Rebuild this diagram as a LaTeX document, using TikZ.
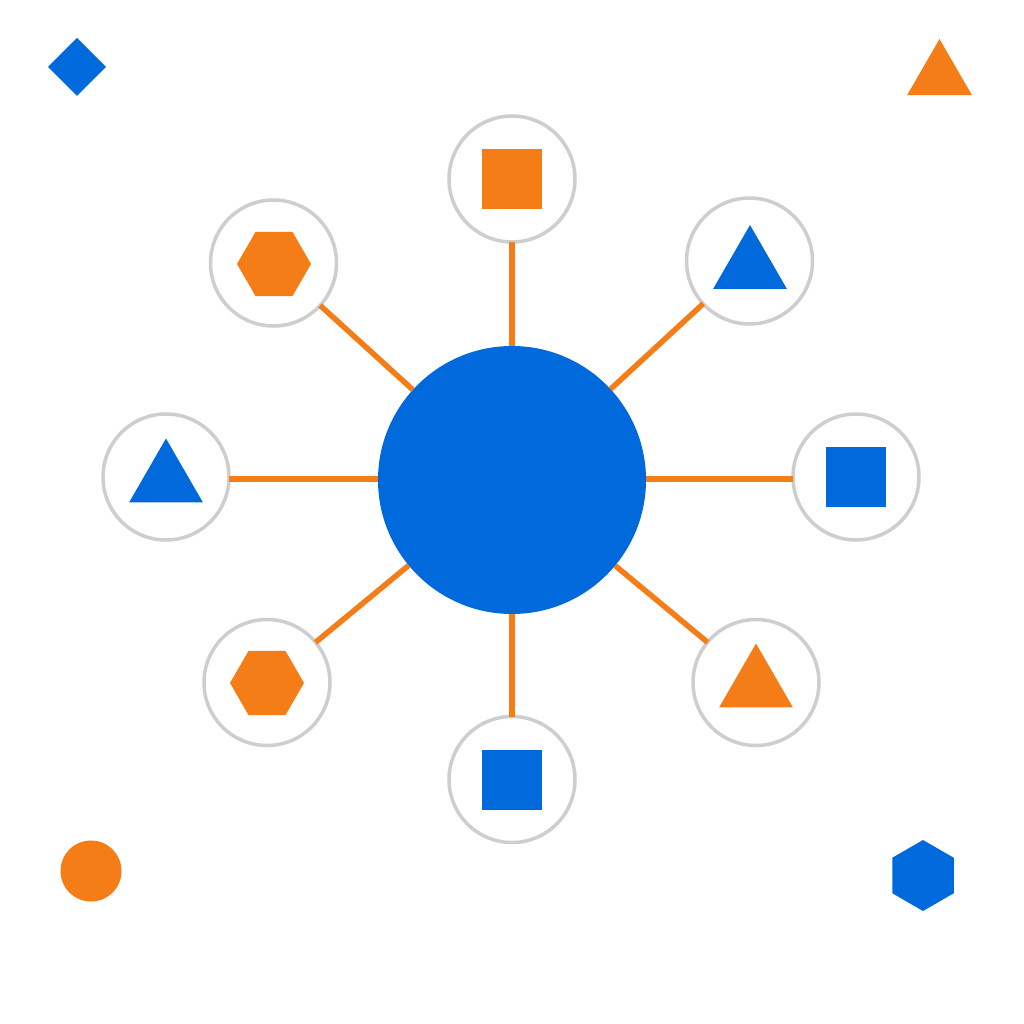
\documentclass[tikz,border=0pt]{standalone}
\usetikzlibrary{shapes.geometric}
\definecolor{hubblue}{RGB}{0,106,220}
\definecolor{huborange}{RGB}{244,125,24}
\definecolor{ringgray}{RGB}{206,206,206}
\tikzset{
  hub/.style={circle, fill=hubblue, minimum size=268pt, inner sep=0pt, outer sep=0pt},
  sat/.style={circle, draw=ringgray, line width=3.5pt, fill=white, minimum size=126pt, inner sep=0pt, outer sep=0pt},
  spoke/.style={draw=huborange, line width=5.5pt},
  tri/.style={regular polygon, regular polygon sides=3, minimum size=#1, inner sep=0pt, outer sep=0pt},
  hexa/.style={regular polygon, regular polygon sides=6, minimum size=#1, inner sep=0pt, outer sep=0pt},
  sq/.style={rectangle, minimum size=#1, inner sep=0pt, outer sep=0pt},
  bfill/.style={fill=hubblue},
  ofill/.style={fill=huborange}
}
\begin{document}
\begin{tikzpicture}[x=1pt,y=-1pt]
\useasboundingbox (0,0) rectangle (1024,1024);
\fill[white] (0,0) rectangle (1024,1024);

% hub
\node[hub] (c) at (512,480) {};

% satellites
\node[sat] (sT)  at (512,179) {};
\node[sat] (sTR) at (749.5,261) {};
\node[sat] (sR)  at (856,477) {};
\node[sat] (sBR) at (756,682.5) {};
\node[sat] (sB)  at (512,779.5) {};
\node[sat] (sBL) at (267,682.5) {};
\node[sat] (sL)  at (166,477) {};
\node[sat] (sTL) at (273.5,263) {};

% spokes
\draw[spoke] (c.north) -- (c.north |- sT.south);
\draw[spoke] (c.south) -- (c.south |- sB.north);
\draw[spoke] ([yshift=1pt]c.west) -- ([yshift=1pt]c.west -| sL.east);
\draw[spoke] ([yshift=1pt]c.east) -- ([yshift=1pt]c.east -| sR.west);
\foreach \s in {sTR,sBR,sBL,sTL}
  \draw[spoke] (c) -- (\s);

% shapes inside satellites
\node[sq=60pt, ofill] (iT) at (511.5,179) {};
\node[tri=85pt, bfill] (iTR) at (750,267.5) {};
\node[sq=60pt, bfill] (iR) at (855.5,477) {};
\node[tri=85pt, ofill] (iBR) at (756,686) {};
\node[sq=60pt, bfill] (iB) at (512,779.5) {};
\node[hexa=74pt, ofill] (iBL) at (267,683) {};
\node[tri=85pt, bfill] (iL) at (166,481) {};
\node[hexa=74pt, ofill] (iTL) at (274,264) {};

% corner decorations
\node[regular polygon, regular polygon sides=4, shape border rotate=45, minimum size=58pt, inner sep=0pt, bfill] (kTL) at (77,67) {};
\node[tri=75pt, ofill] (kTR) at (939.5,76.5) {};
\node[circle, minimum size=61pt, inner sep=0pt, ofill] (kBL) at (91,871) {};
\node[hexa=71pt, shape border rotate=30, bfill] (kBR) at (923,875.5) {};
\end{tikzpicture}
\end{document}
